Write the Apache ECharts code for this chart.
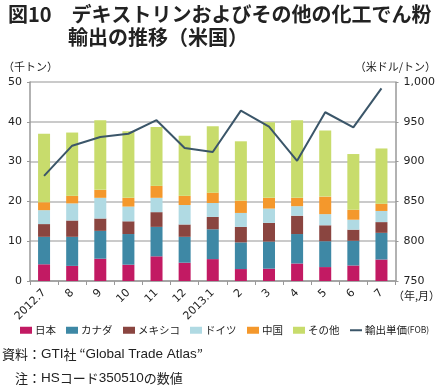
<!DOCTYPE html>
<html><head><meta charset="utf-8">
<script src="https://cdn.jsdelivr.net/npm/echarts@6/dist/echarts.min.js"></script>
<style>html,body{margin:0;padding:0;background:#fff}#c{width:438px;height:392px}</style>
</head><body><div id="c"></div>
<script>
var categories = ['2012.7','8','9','10','11','12','2013.1','2','3','4','5','6','7'];
var japan   = [4.2, 3.8, 5.6, 4.1, 6.2, 4.6, 5.5, 3.0, 3.1, 4.4, 3.5, 3.9, 5.4];
var canada  = [6.9, 7.3, 7.0, 7.7, 7.4, 6.5, 7.5, 6.7, 6.8, 7.4, 6.5, 6.2, 6.7];
var mexico  = [3.2, 4.1, 3.1, 3.2, 3.7, 3.1, 3.1, 3.9, 4.7, 4.6, 4.0, 2.8, 2.7];
var germany = [3.5, 4.3, 5.2, 3.7, 3.6, 4.9, 3.5, 3.5, 3.6, 2.4, 2.8, 2.5, 2.8];
var china   = [2.0, 1.9, 2.0, 2.2, 3.0, 2.3, 2.6, 3.1, 2.7, 2.1, 4.4, 2.5, 1.8];
var other   = [17.2, 15.9, 17.5, 16.7, 14.8, 15.1, 16.7, 14.9, 19.0, 19.5, 16.6, 14.0, 13.9];
var unitPrice = [882, 920, 931, 935, 952, 917, 912, 964, 944, 901, 962, 943, 992];
var leftTicks = [0, 50, 10];
var rightTicks = [750, 1000, 50];

var names = ['日本','カナダ','メキシコ','ドイツ','中国','その他','輸出単価(FOB)'];
var colors = ['#c21a63','#3e88a5','#8a4540','#b0dae3','#f4982c','#c8dc6c','#3b5669'];
var stacks = [japan, canada, mexico, germany, china, other];

var chart = echarts.init(document.getElementById('c'), null, {renderer:'canvas'});
var FONT = 'DejaVu Sans';
var JP = '"Noto Sans CJK JP"';
var LAT = '"Liberation Sans"';

var series = stacks.map(function(d, i){
  return {name: names[i], type:'bar', stack:'s', data:d, barWidth:12,
    itemStyle:{color:colors[i]}, yAxisIndex:0};
});
series.push({name: names[6], type:'line', data: unitPrice, yAxisIndex:1,
  symbol:'none', lineStyle:{color:colors[6], width:2}, itemStyle:{color:colors[6]}});

var legendLefts = [20, 66, 123, 190, 247, 293, 350];
var legends = names.map(function(n, i){
  var lg = {left: legendLefts[i], top: 325, itemWidth:12, itemHeight: i===6?2:7,
    itemGap: 0, padding:0, icon:'rect', data:[{name:n, icon:'rect'}], selectedMode:false,
    textStyle:{fontFamily:JP, fontSize:10.5, color:'#222', padding:[0,0,0,-2]}};
  if (i === 6) {
    lg.formatter = function(){ return '{a|輸出単価}{b|(FOB)}'; };
    lg.textStyle.rich = {a:{fontFamily:JP, fontSize:10.5, color:'#222'}, b:{fontFamily:JP, fontSize:8.5, color:'#222'}};
  }
  return lg;
});

chart.setOption({
  animation:false,
  backgroundColor:'#fff',
  grid:{left:30, right:41, top:82, bottom:111},
  legend: legends,
  xAxis:{type:'category', data:categories,
    axisLine:{lineStyle:{color:'#999', width:1.5}},
    axisTick:{show:true, length:4, lineStyle:{color:'#999'}},
    axisLabel:{rotate:45, fontFamily:FONT, fontSize:11, color:'#222', margin:10, interval:0}},
  yAxis:[
    {type:'value', min:leftTicks[0], max:leftTicks[1], interval:leftTicks[2],
     axisLine:{show:true, lineStyle:{color:'#999', width:1.5}},
     axisTick:{show:true, length:3, lineStyle:{color:'#999'}},
     splitLine:{lineStyle:{color:'#b8b8b8', width:1.5}},
     axisLabel:{fontFamily:FONT, fontSize:11, color:'#222', margin:8}},
    {type:'value', min:rightTicks[0], max:rightTicks[1], interval:rightTicks[2], position:'right',
     axisLine:{show:true, lineStyle:{color:'#999', width:1.5}},
     axisTick:{show:true, length:3, lineStyle:{color:'#999'}},
     splitLine:{show:false},
     axisLabel:{fontFamily:FONT, fontSize:11, color:'#222', margin:8,
       formatter:function(v){ return v>=1000 ? '1,000' : String(v); }}}
  ],
  graphic:[
    {type:'text', left:8, top:4, style:{text:'図10　デキストリンおよびその他の化工でん粉', fontFamily:JP, fontSize:20, fontWeight:'bold', fill:'#222'}},
    {type:'text', left:68, top:27, style:{text:'輸出の推移（米国）', fontFamily:JP, fontSize:20, fontWeight:'bold', fill:'#222'}},
    {type:'text', left:3, top:61, style:{text:'（千トン）', fontFamily:JP, fontSize:11, fill:'#222'}},
    {type:'text', right:2, top:61, style:{text:'（米ドル/トン）', fontFamily:JP, fontSize:11, fill:'#222'}},
    {type:'text', left:393, top:290, style:{text:'（年,月）', fontFamily:JP, fontSize:11, fill:'#222'}},
    {type:'text', left:2, top:347, style:{
      text:'{j|資料：}{l|GTI}{j|社 “}{l|Global Trade Atlas}{j|”}',
      rich:{j:{fontFamily:JP, fontSize:13, fill:'#222'}, l:{fontFamily:LAT, fontSize:13.5, fill:'#222'}}}},
    {type:'text', left:15, top:371, style:{
      text:'{j|注：}{l|HS}{j|コード}{l|350510}{j|の数値}',
      rich:{j:{fontFamily:JP, fontSize:13, fill:'#222'}, l:{fontFamily:LAT, fontSize:13.5, fill:'#222'}}}}
  ],
  series: series
});
</script></body></html>
